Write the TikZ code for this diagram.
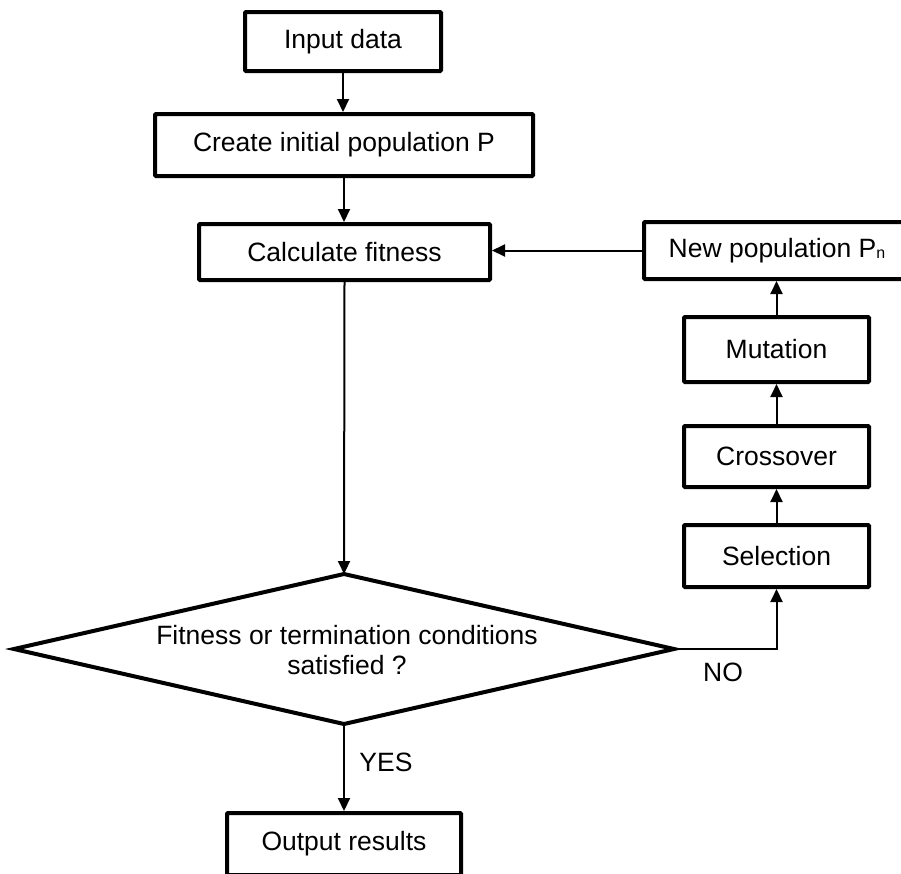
\documentclass[tikz,border=0pt]{standalone}
\usepackage{fontspec}
\setmainfont{Liberation Sans}
\usetikzlibrary{arrows.meta}
\begin{document}
\begin{tikzpicture}[x=1pt,y=-1pt,
  box/.style={draw=black,line width=4pt,fill=white,inner sep=0pt,rounded corners=1pt,
    font=\fontsize{26.5}{30}\selectfont,align=center},
  conn/.style={line width=2pt,-{Triangle[length=13pt,width=12pt]}},
  lbl/.style={font=\fontsize{26.5}{30}\selectfont,inner sep=0pt}]
\useasboundingbox (0,0) rectangle (901,873);
\clip (0,0) rectangle (901,873);
\fill[white] (0,0) rectangle (901,873);
\node[box,minimum width=196pt,minimum height=59pt] (input) at (343,41.5) {Input data};
\node[box,minimum width=378pt,minimum height=62pt] (create) at (344,145) {Create initial population P};
\node[box,minimum width=291pt,minimum height=56pt] (calc) at (344.5,252) {Calculate fitness};
\node[box,minimum width=266pt,minimum height=57pt] (newpop) at (777,250.5) {New population P{\fontsize{16}{16}\selectfont\raisebox{-1pt}{n}}};
\node[box,minimum width=185pt,minimum height=65pt] (mut) at (776.5,349.5) {Mutation};
\node[box,minimum width=185pt,minimum height=61pt] (cross) at (776.5,456.5) {Crossover};
\node[box,minimum width=185pt,minimum height=62pt] (sel) at (776.5,556) {Selection};
\node[box,minimum width=234pt,minimum height=62pt] (out) at (344,844) {Output results};
\coordinate (dT) at (344,574);
\coordinate (dR) at (674,649);
\coordinate (dB) at (344,724);
\coordinate (dL) at (14,649);
\draw[line width=4pt,line join=miter] (dL) -- (dT) -- (dR) -- (dB) -- cycle;
\node[lbl,align=center,font=\fontsize{26.5}{30.5}\selectfont] (dec) at (347,650) {Fitness or termination conditions\\satisfied ?};
\draw[conn] (input.south) -- (input.south |- create.north);
\draw[conn] (create.south) -- (create.south |- calc.north);
\draw[conn] (newpop.west) -- (calc.east |- newpop.west);
\draw[conn] (calc.south) -- (dT);
\draw[conn] (dB) -- (out.north);
\draw[conn] (dR) -| (sel.south);
\draw[conn] (sel.north) -- (cross.south);
\draw[conn] (cross.north) -- (mut.south);
\draw[conn] (mut.north) -- (mut.north |- newpop.south);
\node[lbl] (no) at (723,672) {NO};
\node[lbl] (yes) at (386,762) {YES};
\end{tikzpicture}
\end{document}
